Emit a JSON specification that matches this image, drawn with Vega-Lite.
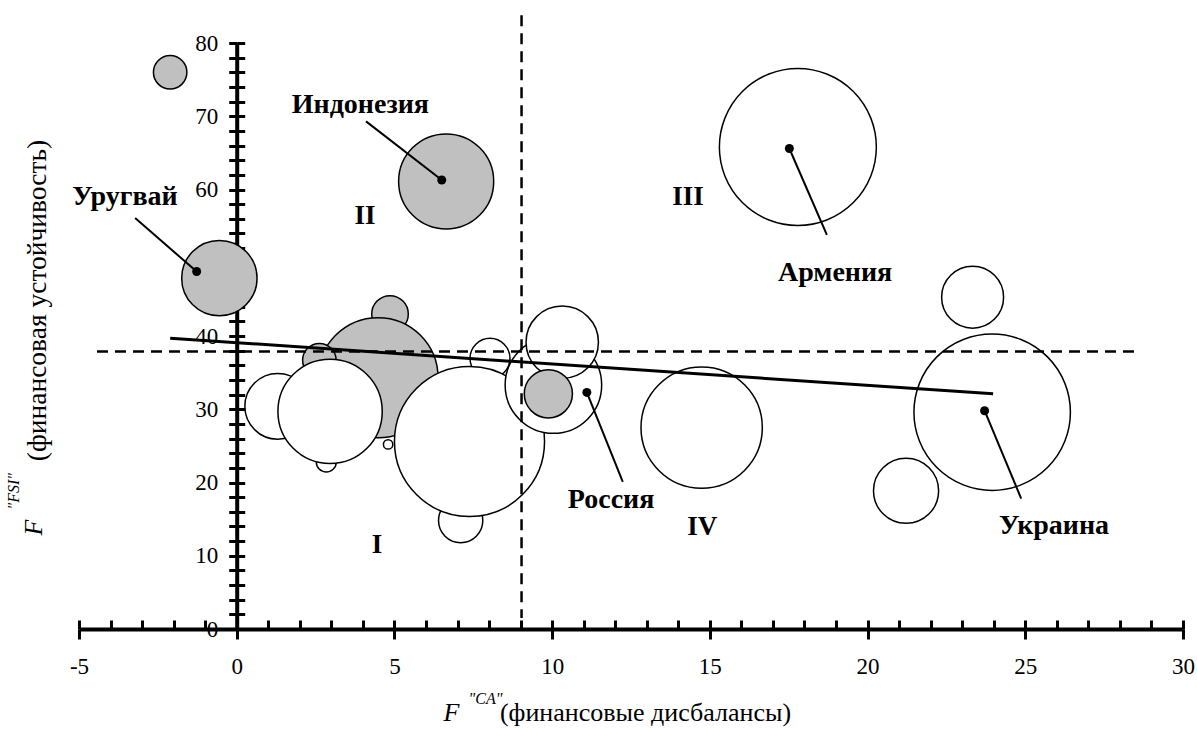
{
  "$schema": "https://vega.github.io/schema/vega-lite/v6.json",
  "width": 1104,
  "height": 586,
  "autosize": {"type": "none"},
  "padding": {"left": 79, "top": 43, "right": 14, "bottom": 100},
  "background": "white",
  "config": {
    "view": {"stroke": null},
    "font": "Liberation Serif, DejaVu Serif, serif",
    "axis": {"grid": false, "labelFont": "Liberation Serif, DejaVu Serif, serif", "titleFont": "Liberation Serif, DejaVu Serif, serif", "domainColor": "black", "tickColor": "black", "labelColor": "black", "titleColor": "black", "titleFontWeight": "normal"}
  },
  "datasets": {
    "bubbles": [
      {"x": 17.79, "y": 65.8, "v": 61.6, "g": "white"},
      {"x": 23.33, "y": 45.3, "v": 9.6, "g": "white"},
      {"x": 23.95, "y": 29.6, "v": 61.2, "g": "white"},
      {"x": 21.22, "y": 18.87, "v": 10.6, "g": "white"},
      {"x": 14.74, "y": 27.5, "v": 36.8, "g": "white"},
      {"x": -2.11, "y": 76.0, "v": 2.8, "g": "gray"},
      {"x": -0.55, "y": 47.9, "v": 14.2, "g": "gray"},
      {"x": 6.64, "y": 61.1, "v": 22.6, "g": "gray"},
      {"x": 4.86, "y": 43.0, "v": 3.35, "g": "gray"},
      {"x": 4.48, "y": 34.3, "v": 36.0, "g": "gray"},
      {"x": 2.62, "y": 36.7, "v": 2.8, "g": "gray"},
      {"x": 1.30, "y": 30.4, "v": 10.8, "g": "white"},
      {"x": 2.84, "y": 22.8, "v": 1.0, "g": "white"},
      {"x": 2.96, "y": 29.7, "v": 27.2, "g": "white"},
      {"x": 4.80, "y": 25.2, "v": 0.22, "g": "white"},
      {"x": 8.03, "y": 36.95, "v": 4.0, "g": "white"},
      {"x": 7.10, "y": 14.8, "v": 4.9, "g": "white"},
      {"x": 7.38, "y": 25.6, "v": 56.3, "g": "white"},
      {"x": 10.04, "y": 33.3, "v": 23.3, "g": "white"},
      {"x": 10.32, "y": 39.15, "v": 13.1, "g": "white"},
      {"x": 9.88, "y": 32.1, "v": 5.8, "g": "gray"}
    ],
    "dashed": [
      {"x": -4.43, "x2": 28.55, "y": 37.9, "y2": 37.9},
      {"x": 9.03, "x2": 9.03, "y": 83.8, "y2": 1.5}
    ],
    "trend": [
      {"x": -2.11, "x2": 23.98, "y": 39.7, "y2": 32.1}
    ],
    "pointers": [
      {"x": -3.22, "y": 56.1, "x2": -1.27, "y2": 48.8},
      {"x": 4.10, "y": 69.3, "x2": 6.50, "y2": 61.3},
      {"x": 17.52, "y": 65.6, "x2": 18.71, "y2": 53.8},
      {"x": 11.10, "y": 32.3, "x2": 12.24, "y2": 20.1},
      {"x": 23.71, "y": 29.8, "x2": 24.87, "y2": 17.8}
    ],
    "dots": [
      {"x": -1.27, "y": 48.8},
      {"x": 6.50, "y": 61.3},
      {"x": 17.52, "y": 65.6},
      {"x": 11.10, "y": 32.3},
      {"x": 23.71, "y": 29.8}
    ],
    "labels": [
      {"x": -3.54, "y": 59.0, "t": "Уругвай", "s": 28},
      {"x": 3.92, "y": 71.5, "t": "Индонезия", "s": 28},
      {"x": 18.97, "y": 48.6, "t": "Армения", "s": 28},
      {"x": 11.87, "y": 17.6, "t": "Россия", "s": 28},
      {"x": 25.91, "y": 14.06, "t": "Украина", "s": 28},
      {"x": 4.45, "y": 11.5, "t": "I", "s": 27},
      {"x": 4.07, "y": 56.4, "t": "II", "s": 27},
      {"x": 14.31, "y": 59.0, "t": "III", "s": 27},
      {"x": 14.76, "y": 13.9, "t": "IV", "s": 27}
    ]
  },
  "resolve": {"axis": {"x": "independent", "y": "independent"}},
  "layer": [
    {
      "data": {"name": "bubbles"},
      "mark": {"type": "point", "shape": "circle", "filled": true, "stroke": "black", "strokeWidth": 1.5, "opacity": 1},
      "encoding": {
        "x": {"field": "x", "type": "quantitative", "scale": {"domain": [-5, 30], "nice": false, "zero": false},
          "axis": {"orient": "bottom", "values": [-5, 0, 5, 10, 15, 20, 25, 30], "labelExpr": "'' + datum.value", "tickSize": 10, "tickWidth": 3, "domainWidth": 4, "labelFontSize": 23, "labelPadding": 16, "labelFlush": false, "labelOverlap": false,
            "title": "(финансовые дисбалансы)", "titleFontSize": 26, "titleX": 566, "titleY": 91, "titleAlign": "center", "titleBaseline": "alphabetic"}},
        "y": {"field": "y", "type": "quantitative", "scale": {"domain": [0, 80], "nice": false, "zero": false},
          "axis": {"orient": "left", "offset": -157.7, "values": [0, 2, 4, 6, 8, 10, 12, 14, 16, 18, 20, 22, 24, 26, 28, 30, 32, 34, 36, 38, 40, 42, 44, 46, 48, 50, 52, 54, 56, 58, 60, 62, 64, 66, 68, 70, 72, 74, 76, 78, 80],
            "labelExpr": "datum.value % 10 === 0 ? datum.label : ''", "tickSize": 8, "tickWidth": 3, "domainWidth": 4, "labelFontSize": 23, "labelPadding": 11, "labelOverlap": false,
            "title": "(финансовая устойчивость)", "titleFontSize": 27.5, "titleAngle": 270, "titleX": -191, "titleY": 257, "titleAlign": "center", "titleBaseline": "alphabetic"}},
        "size": {"field": "v", "type": "quantitative", "scale": {"domain": [0, 100], "range": [0, 40000]}, "legend": null},
        "fill": {"field": "g", "type": "nominal", "scale": {"domain": ["gray", "white"], "range": ["#c0c0c0", "#ffffff"]}, "legend": null}
      }
    },
    {
      "data": {"name": "dashed"},
      "mark": {"type": "rule", "color": "black", "strokeWidth": 2.5, "strokeDash": [11, 7]},
      "encoding": {
        "x": {"field": "x", "type": "quantitative", "scale": {"domain": [-5, 30], "nice": false, "zero": false},
          "axis": {"orient": "bottom", "values": [-5, -4, -3, -2, -1, 0, 1, 2, 3, 4, 5, 6, 7, 8, 9, 10, 11, 12, 13, 14, 15, 16, 17, 18, 19, 20, 21, 22, 23, 24, 25, 26, 27, 28, 29, 30], "tickSize": -9, "tickWidth": 3, "domain": false, "labels": false,
            "title": "F", "titleFontSize": 26, "titleFontStyle": "italic", "titleX": 364, "titleY": 91, "titleAlign": "left", "titleBaseline": "alphabetic"}},
        "x2": {"field": "x2"},
        "y": {"field": "y", "type": "quantitative", "scale": {"domain": [0, 80], "nice": false, "zero": false},
          "axis": {"orient": "left", "offset": -157.7, "values": [0, 2, 4, 6, 8, 10, 12, 14, 16, 18, 20, 22, 24, 26, 28, 30, 32, 34, 36, 38, 40, 42, 44, 46, 48, 50, 52, 54, 56, 58, 60, 62, 64, 66, 68, 70, 72, 74, 76, 78, 80], "tickSize": -8, "tickWidth": 3, "domain": false, "labels": false,
            "title": "F", "titleFontSize": 26, "titleFontStyle": "italic", "titleAngle": 270, "titleX": -195, "titleY": 492, "titleAlign": "left", "titleBaseline": "alphabetic"}},
        "y2": {"field": "y2"}
      }
    },
    {
      "data": {"name": "trend"},
      "mark": {"type": "rule", "color": "black", "strokeWidth": 3},
      "encoding": {
        "x": {"field": "x", "type": "quantitative", "scale": {"domain": [-5, 30], "nice": false, "zero": false},
          "axis": {"orient": "bottom", "domain": false, "ticks": false, "labels": false,
            "title": "\"CA\"", "titleFontSize": 16, "titleFontStyle": "italic", "titleX": 389, "titleY": 74, "titleAlign": "left", "titleBaseline": "alphabetic"}},
        "x2": {"field": "x2"},
        "y": {"field": "y", "type": "quantitative", "scale": {"domain": [0, 80], "nice": false, "zero": false},
          "axis": {"orient": "left", "offset": -157.7, "domain": false, "ticks": false, "labels": false,
            "title": "\"FSI\"", "titleFontSize": 16, "titleFontStyle": "italic", "titleAngle": 270, "titleX": -218, "titleY": 466, "titleAlign": "left", "titleBaseline": "alphabetic"}},
        "y2": {"field": "y2"}
      }
    },
    {
      "data": {"name": "pointers"},
      "mark": {"type": "rule", "color": "black", "strokeWidth": 2},
      "encoding": {
        "x": {"field": "x", "type": "quantitative", "scale": {"domain": [-5, 30], "nice": false, "zero": false}, "axis": null},
        "x2": {"field": "x2"},
        "y": {"field": "y", "type": "quantitative", "scale": {"domain": [0, 80], "nice": false, "zero": false}, "axis": null},
        "y2": {"field": "y2"}
      }
    },
    {
      "data": {"name": "dots"},
      "mark": {"type": "point", "shape": "circle", "filled": true, "color": "black", "size": 81, "opacity": 1},
      "encoding": {
        "x": {"field": "x", "type": "quantitative", "scale": {"domain": [-5, 30], "nice": false, "zero": false}, "axis": null},
        "y": {"field": "y", "type": "quantitative", "scale": {"domain": [0, 80], "nice": false, "zero": false}, "axis": null}
      }
    },
    {
      "data": {"name": "labels"},
      "mark": {"type": "text", "font": "Liberation Serif, DejaVu Serif, serif", "fontWeight": "bold", "color": "black", "align": "center", "baseline": "middle"},
      "encoding": {
        "x": {"field": "x", "type": "quantitative", "scale": {"domain": [-5, 30], "nice": false, "zero": false}, "axis": null},
        "y": {"field": "y", "type": "quantitative", "scale": {"domain": [0, 80], "nice": false, "zero": false}, "axis": null},
        "text": {"field": "t"},
        "size": {"field": "s", "type": "quantitative", "scale": null, "legend": null}
      }
    }
  ]
}
